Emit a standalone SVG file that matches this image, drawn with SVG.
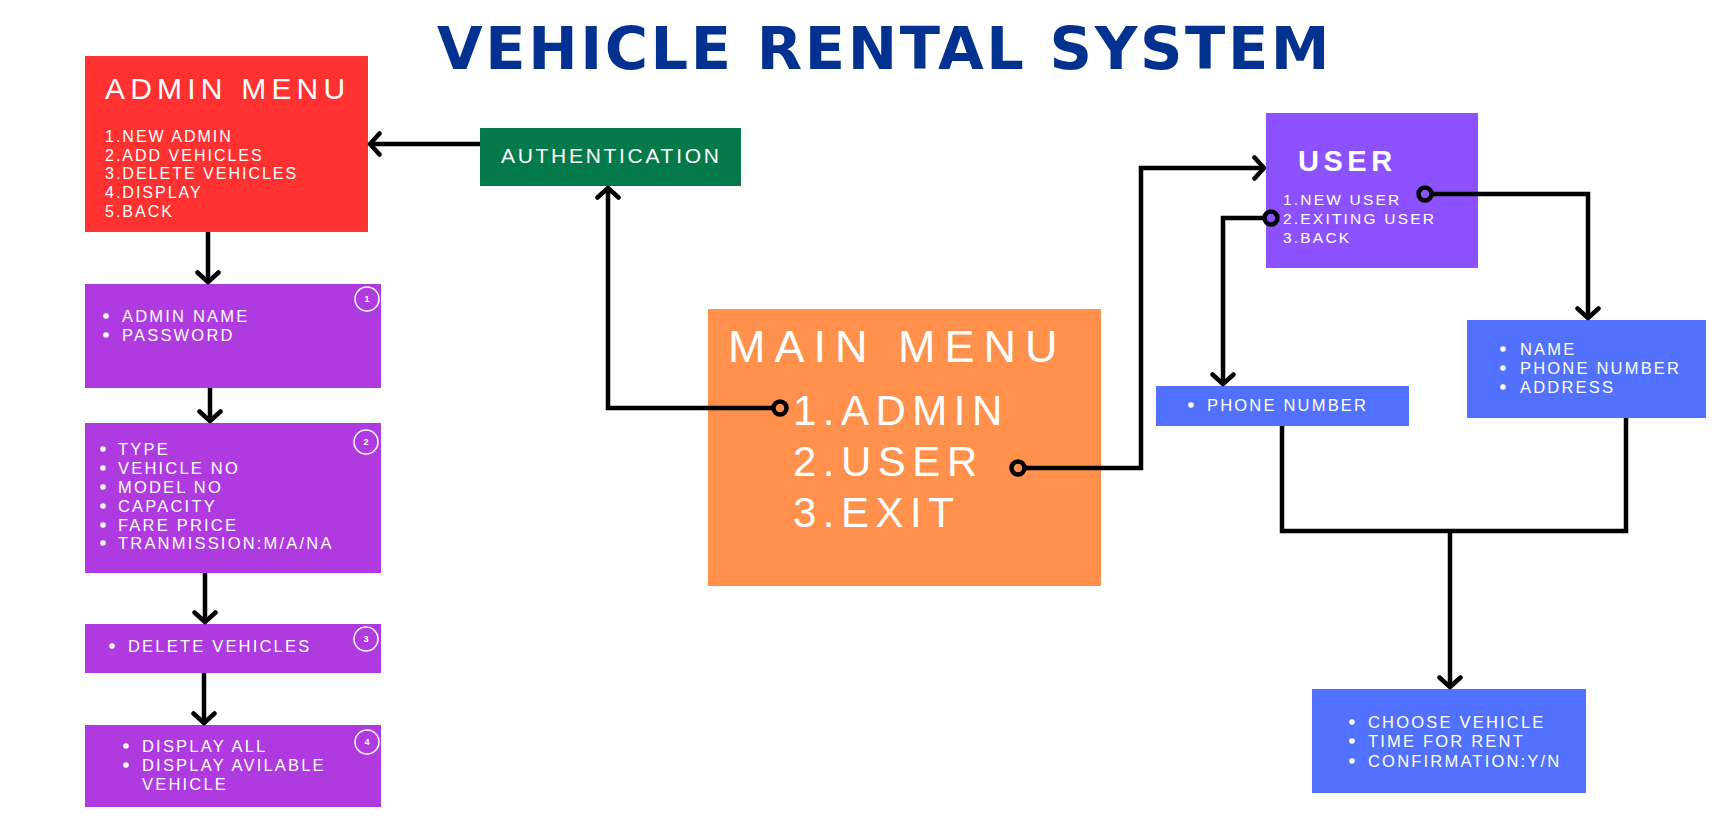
<svg xmlns="http://www.w3.org/2000/svg" width="1725" height="824" viewBox="0 0 1725 824">
<style>
  text{font-family:"Liberation Sans",Arial,sans-serif;fill:#ffffff}
  .title{font-family:"DejaVu Sans","Liberation Sans",sans-serif;font-weight:bold;font-size:59px;letter-spacing:2.6px;fill:#03318f}
  .h1{font-size:30px;letter-spacing:5.2px}
  .am{font-size:16px;letter-spacing:2px}
  .it{font-size:16.5px;letter-spacing:2.2px}
  .ui{font-size:15.5px;letter-spacing:2.2px}
  .auth{font-size:21px;letter-spacing:2.7px}
  .mm{font-size:45px;letter-spacing:9px}
  .mi{font-size:42px;letter-spacing:6.5px}
  .uh{font-size:29px;font-weight:bold;letter-spacing:4.5px}
  .num{font-size:9px;font-weight:bold;text-anchor:middle}
  .badge{fill:none;stroke:#ffffff;stroke-width:1.5}
  .bul{fill:#ffffff}
  .ln{fill:none;stroke:#000000;stroke-width:4.5;stroke-linejoin:miter}
  .dot{fill:none;stroke:#000000;stroke-width:4.5}
</style>
<defs>
  <marker id="arr" viewBox="-13 -13 18 26" markerWidth="18" markerHeight="26" refX="0" refY="0" markerUnits="userSpaceOnUse" orient="auto">
    <path d="M-9.5,-10.5 L0,0 L-9.5,10.5" fill="none" stroke="#000000" stroke-width="4.5" stroke-linecap="round" stroke-linejoin="round"/>
  </marker>
</defs>
<rect width="1725" height="824" fill="#ffffff"/>
<text class="title" x="437" y="69">VEHICLE RENTAL SYSTEM</text>

<g id="admin-menu">
  <rect x="85" y="56" width="283" height="176" fill="#ff3131"/>
  <text class="h1" x="105" y="99">ADMIN MENU</text>
  <text class="am" x="105" y="142">1.NEW ADMIN</text>
  <text class="am" x="105" y="161">2.ADD VEHICLES</text>
  <text class="am" x="105" y="179">3.DELETE VEHICLES</text>
  <text class="am" x="105" y="198">4.DISPLAY</text>
  <text class="am" x="105" y="217">5.BACK</text>
</g>

<g id="authentication">
  <rect x="480" y="128" width="261" height="58" fill="#047a4a"/>
  <text class="auth" x="501" y="163">AUTHENTICATION</text>
</g>

<g id="admin-login">
  <rect x="85" y="284" width="296" height="104" fill="#ae3ae0"/>
  <circle class="badge" cx="367" cy="299" r="12"/>
  <text class="num" x="367" y="302">1</text>
  <circle class="bul" cx="106" cy="316" r="2.8"/>
  <text class="it" x="122" y="322">ADMIN NAME</text>
  <circle class="bul" cx="106" cy="335" r="2.8"/>
  <text class="it" x="122" y="341">PASSWORD</text>
</g>

<g id="add-vehicles">
  <rect x="85" y="423" width="296" height="150" fill="#ae3ae0"/>
  <circle class="badge" cx="366" cy="442" r="12"/>
  <text class="num" x="366" y="445">2</text>
  <circle class="bul" cx="103" cy="449" r="2.8"/>
  <text class="it" x="118" y="455">TYPE</text>
  <circle class="bul" cx="103" cy="468" r="2.8"/>
  <text class="it" x="118" y="474">VEHICLE NO</text>
  <circle class="bul" cx="103" cy="487" r="2.8"/>
  <text class="it" x="118" y="493">MODEL NO</text>
  <circle class="bul" cx="103" cy="506" r="2.8"/>
  <text class="it" x="118" y="512">CAPACITY</text>
  <circle class="bul" cx="103" cy="525" r="2.8"/>
  <text class="it" x="118" y="531">FARE PRICE</text>
  <circle class="bul" cx="103" cy="543" r="2.8"/>
  <text class="it" x="118" y="549">TRANMISSION:M/A/NA</text>
</g>

<g id="delete-vehicles">
  <rect x="85" y="624" width="296" height="49" fill="#ae3ae0"/>
  <circle class="badge" cx="366" cy="639" r="12"/>
  <text class="num" x="366" y="642">3</text>
  <circle class="bul" cx="112" cy="646" r="2.8"/>
  <text class="it" x="128" y="652">DELETE VEHICLES</text>
</g>

<g id="display">
  <rect x="85" y="725" width="296" height="82" fill="#ae3ae0"/>
  <circle class="badge" cx="367" cy="742" r="12"/>
  <text class="num" x="367" y="745">4</text>
  <circle class="bul" cx="126" cy="746" r="2.8"/>
  <text class="it" x="142" y="752">DISPLAY ALL</text>
  <circle class="bul" cx="126" cy="765" r="2.8"/>
  <text class="it" x="142" y="771">DISPLAY AVILABLE</text>
  <text class="it" x="142" y="790">VEHICLE</text>
</g>

<g id="main-menu">
  <rect x="708" y="309" width="393" height="277" fill="#ff914d"/>
  <text class="mm" x="728" y="362">MAIN MENU</text>
  <text class="mi" x="793" y="425">1.ADMIN</text>
  <text class="mi" x="793" y="476">2.USER</text>
  <text class="mi" x="793" y="527">3.EXIT</text>
</g>

<g id="user">
  <rect x="1266" y="113" width="212" height="155" fill="#8c52ff"/>
  <text class="uh" x="1298" y="171">USER</text>
  <text class="ui" x="1283" y="205">1.NEW USER</text>
  <text class="ui" x="1283" y="224">2.EXITING USER</text>
  <text class="ui" x="1283" y="243">3.BACK</text>
</g>

<g id="existing-user">
  <rect x="1156" y="386" width="253" height="40" fill="#5271ff"/>
  <circle class="bul" cx="1191" cy="405" r="2.8"/>
  <text class="it" x="1207" y="411">PHONE NUMBER</text>
</g>

<g id="new-user">
  <rect x="1467" y="320" width="239" height="98" fill="#5271ff"/>
  <circle class="bul" cx="1503" cy="349" r="2.8"/>
  <text class="it" x="1520" y="355">NAME</text>
  <circle class="bul" cx="1503" cy="368" r="2.8"/>
  <text class="it" x="1520" y="374">PHONE NUMBER</text>
  <circle class="bul" cx="1503" cy="387" r="2.8"/>
  <text class="it" x="1520" y="393">ADDRESS</text>
</g>

<g id="rent">
  <rect x="1312" y="689" width="274" height="104" fill="#5271ff"/>
  <circle class="bul" cx="1352" cy="722" r="2.8"/>
  <text class="it" x="1368" y="728">CHOOSE VEHICLE</text>
  <circle class="bul" cx="1352" cy="741" r="2.8"/>
  <text class="it" x="1368" y="747">TIME FOR RENT</text>
  <circle class="bul" cx="1352" cy="761" r="2.8"/>
  <text class="it" x="1368" y="767">CONFIRMATION:Y/N</text>
</g>

<g id="connectors">
  <path class="ln" d="M480,144 H370" marker-end="url(#arr)"/>
  <circle class="dot" cx="780" cy="408" r="6.5"/>
  <path class="ln" d="M773.5,408 H608 V188" marker-end="url(#arr)"/>
  <path class="ln" d="M208,232 V282" marker-end="url(#arr)"/>
  <path class="ln" d="M210,388 V421" marker-end="url(#arr)"/>
  <path class="ln" d="M205,573 V622" marker-end="url(#arr)"/>
  <path class="ln" d="M204,673 V723" marker-end="url(#arr)"/>
  <circle class="dot" cx="1018" cy="468" r="6.5"/>
  <path class="ln" d="M1024.5,468 H1141 V168 H1264" marker-end="url(#arr)"/>
  <circle class="dot" cx="1425" cy="194" r="6.5"/>
  <path class="ln" d="M1431.5,194 H1588 V318" marker-end="url(#arr)"/>
  <circle class="dot" cx="1271" cy="218" r="6.5"/>
  <path class="ln" d="M1264.5,218 H1223 V384" marker-end="url(#arr)"/>
  <path class="ln" d="M1282,426 V531 H1626 V418"/>
  <path class="ln" d="M1450,531 V687" marker-end="url(#arr)"/>
</g>
</svg>
